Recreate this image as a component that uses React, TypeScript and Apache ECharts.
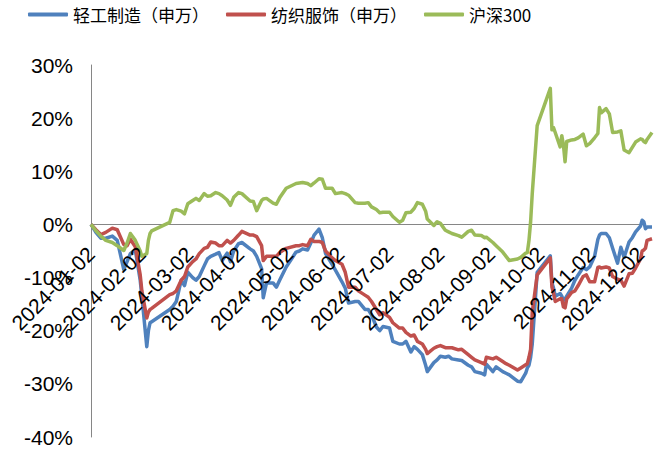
import React, { useEffect, useRef } from "react";
import * as echarts from "echarts";

// Trading dates sampled through 2024 (cumulative return since 2024-01-02, in %)
const DATES = [
  "2024-01-02", "2024-01-05", "2024-01-08", "2024-01-11", "2024-01-15", "2024-01-18", "2024-01-22", "2024-01-24",
  "2024-01-26", "2024-01-29", "2024-02-01", "2024-02-02", "2024-02-05", "2024-02-06", "2024-02-07", "2024-02-08",
  "2024-02-19", "2024-02-21", "2024-02-23", "2024-02-26", "2024-02-28", "2024-03-01", "2024-03-04", "2024-03-06",
  "2024-03-08", "2024-03-11", "2024-03-13", "2024-03-15", "2024-03-18", "2024-03-20", "2024-03-22", "2024-03-25",
  "2024-03-27", "2024-03-29", "2024-04-01", "2024-04-03", "2024-04-08", "2024-04-10", "2024-04-12", "2024-04-15",
  "2024-04-16", "2024-04-18", "2024-04-22", "2024-04-24", "2024-04-26", "2024-04-30", "2024-05-06", "2024-05-08",
  "2024-05-10", "2024-05-13", "2024-05-15", "2024-05-17", "2024-05-20", "2024-05-22", "2024-05-24", "2024-05-28",
  "2024-05-30", "2024-06-03", "2024-06-05", "2024-06-07", "2024-06-11", "2024-06-13", "2024-06-17", "2024-06-19",
  "2024-06-21", "2024-06-24", "2024-06-26", "2024-06-28", "2024-07-02", "2024-07-04", "2024-07-08", "2024-07-10",
  "2024-07-12", "2024-07-15", "2024-07-17", "2024-07-19", "2024-07-22", "2024-07-24", "2024-07-25", "2024-07-29",
  "2024-07-31", "2024-08-02", "2024-08-05", "2024-08-07", "2024-08-09", "2024-08-13", "2024-08-15", "2024-08-19",
  "2024-08-21", "2024-08-23", "2024-08-27", "2024-08-29", "2024-08-30", "2024-09-03", "2024-09-05", "2024-09-09",
  "2024-09-11", "2024-09-13", "2024-09-18", "2024-09-20", "2024-09-23", "2024-09-24", "2024-09-25", "2024-09-26",
  "2024-09-27", "2024-09-30", "2024-10-08", "2024-10-09", "2024-10-10", "2024-10-11", "2024-10-14", "2024-10-15",
  "2024-10-16", "2024-10-17", "2024-10-18", "2024-10-21", "2024-10-23", "2024-10-25", "2024-10-28", "2024-10-30",
  "2024-11-01", "2024-11-04", "2024-11-06", "2024-11-07", "2024-11-08", "2024-11-11", "2024-11-13", "2024-11-15",
  "2024-11-18", "2024-11-20", "2024-11-22", "2024-11-25", "2024-11-27", "2024-11-29", "2024-12-02", "2024-12-03",
  "2024-12-04", "2024-12-05", "2024-12-06", "2024-12-09",
];

// 轻工制造（申万）
const LIGHT_INDUSTRY = [
  0, -1.5, -2.6, -2.6, -2.2, -3.0, -8.5, -7.0,
  -5.5, -4.8, -10.5, -13.5, -23.0, -20.0, -18.5, -18.3,
  -16.0, -15.4, -14.5, -10.5, -11.5, -9.0, -10.0, -10.5,
  -9.8, -7.8, -6.5, -6.0, -5.6, -5.3, -6.8, -5.4,
  -7.0, -5.0, -3.6, -3.4, -4.6, -5.0, -6.0, -8.3,
  -13.8, -11.0, -11.0, -11.8, -10.5, -8.0, -5.2, -5.0,
  -4.6, -4.8, -3.5, -2.0, -0.9, -2.5, -5.5, -7.5,
  -8.6, -10.8, -12.0, -14.8, -14.5, -14.5, -16.0, -16.0,
  -17.0, -19.3, -20.0, -19.2, -19.5, -22.0, -22.5, -22.5,
  -22.0, -24.0, -23.0, -23.5, -24.5, -26.5, -27.7, -26.0,
  -25.5, -24.8, -25.0, -24.8, -25.3, -25.5, -25.6, -26.5,
  -26.8, -27.7, -28.0, -28.3, -26.3, -27.7, -26.8, -27.7,
  -28.0, -28.3, -29.5, -29.6, -28.0, -27.0, -26.5, -25.0,
  -22.5, -9.0, -5.9, -11.0, -12.0, -13.5, -13.0, -13.5,
  -14.3, -14.0, -13.5, -12.0, -10.5, -9.5, -8.1, -8.5,
  -8.0, -6.0, -2.8, -2.0, -1.7, -1.7, -2.5, -4.5,
  -7.3, -4.3, -6.2, -3.3, -2.5, -1.4, -0.3, 0.8,
  0.5, -0.8, -0.5, -0.5,
];

// 纺织服饰（申万）
const TEXTILE_APPAREL = [
  0, -1.0, -1.9, -1.5, -0.7, -1.0, -3.8, -4.0,
  -2.8, -4.2, -9.5, -12.5, -17.6, -16.5, -16.0, -15.8,
  -13.2, -13.0, -12.5, -10.5, -9.8, -8.0, -7.0, -6.5,
  -5.5, -4.5, -4.3, -3.3, -3.5, -4.0, -4.0, -3.0,
  -3.5, -3.0, -2.0, -1.3, -2.0, -2.0, -2.3, -4.0,
  -6.8, -6.0, -6.0, -6.0, -5.3, -4.5, -4.0, -4.0,
  -3.8, -4.0, -2.8, -3.2, -3.2, -3.4, -5.0, -6.3,
  -6.8, -7.5, -9.0, -11.8, -11.8, -12.5, -13.3, -13.7,
  -14.5, -16.0, -17.0, -16.6, -17.5, -18.5, -19.5, -19.5,
  -20.3, -21.0, -20.8, -22.0, -22.5, -23.5, -24.3, -23.3,
  -23.0, -22.8, -23.2, -23.2, -23.2, -23.6, -23.5, -24.5,
  -25.0, -25.5, -26.0, -26.3, -25.0, -25.3, -25.0, -25.8,
  -26.2, -26.5, -27.4, -27.0, -26.4, -26.2, -25.0, -23.5,
  -16.5, -9.5, -6.3, -11.8, -13.0, -14.5, -14.0, -14.0,
  -15.5, -15.7, -14.0, -12.8, -12.5, -11.5, -9.8, -9.5,
  -10.8, -10.8, -8.1, -8.0, -8.2, -8.0, -8.2, -9.8,
  -10.3, -10.5, -11.6, -9.3, -9.2, -8.2, -6.5, -5.0,
  -4.8, -4.5, -3.0, -2.7,
];

// 沪深300
const CSI300 = [
  0, -1.2, -2.2, -3.0, -3.4, -4.0, -4.9, -3.5,
  -1.7, -3.0, -5.0, -6.0, -5.5, -3.0, -1.7, -1.2,
  0.4, 2.6, 2.8, 2.5, 2.0, 3.9, 4.5, 4.9,
  4.5, 5.8, 5.3, 5.4, 6.0, 5.8, 5.4, 4.6,
  3.6, 5.1, 6.0, 5.8, 4.4, 4.3, 2.6, 4.5,
  4.8, 4.9, 4.0, 3.8, 5.0, 6.8, 7.7, 7.8,
  7.9, 7.7, 7.3, 7.8, 8.6, 8.5, 6.8, 6.8,
  5.8, 6.0, 5.8, 5.5, 4.1, 4.0, 4.0, 4.1,
  3.3, 2.8, 2.2, 2.3, 2.3, 1.5, 0.4, 0.8,
  2.2, 2.3, 3.0, 4.1, 3.8, 2.5, 1.0, -0.2,
  0.5, 0.2, -1.1, -1.4, -1.7, -2.1, -2.4, -1.3,
  -1.1, -2.0, -2.1, -2.5, -2.4, -3.4, -4.0, -5.2,
  -6.0, -6.8, -6.5, -6.2, -5.4, -5.3, -3.0, 0.5,
  5.8, 18.6, 25.6, 17.8, 18.2, 17.3, 14.6, 16.7,
  15.0, 11.8, 15.6, 15.9, 16.0, 16.3, 17.0, 14.8,
  15.2, 16.3, 17.1, 22.0, 21.0, 21.8, 20.8, 17.3,
  17.4, 17.6, 14.0, 13.5, 14.5, 15.5, 16.1, 16.0,
  15.6, 15.4, 16.0, 17.3,
];

const SERIES_NAMES = ["轻工制造（申万）", "纺织服饰（申万）", "沪深300"];
const SERIES_COLORS = ["#4F81BD", "#C0504D", "#9BBB59"];

const TICK_LABELS = [
  "2024-01-02", "2024-02-02", "2024-03-02", "2024-04-02", "2024-05-02", "2024-06-02",
  "2024-07-02", "2024-08-02", "2024-09-02", "2024-10-02", "2024-11-02", "2024-12-02",
];

const Y_MIN = -40;
const Y_MAX = 30;
const Y_STEP = 10;

const DAY_MS = 86400000;
const toUtc = (s: string) => {
  const [y, m, d] = s.split("-").map(Number);
  return Date.UTC(y, m - 1, d);
};
const ORIGIN = toUtc(TICK_LABELS[0]);
const dayOf = (s: string) => Math.round((toUtc(s) - ORIGIN) / DAY_MS);

const TICK_DAYS = TICK_LABELS.map(dayOf);
const LAST_TICK = TICK_DAYS[TICK_DAYS.length - 1];
const LAST_DAY = dayOf(DATES[DATES.length - 1]);

const W = 672;
const H = 450;
const GRID = { left: 91, right: 20, top: 65, bottom: 13 };
const AXIS_GREY = "#868686";

export default function App() {
  const ref = useRef<HTMLDivElement>(null);

  useEffect(() => {
    if (!ref.current) return;
    const chart = echarts.init(ref.current, undefined, { renderer: "svg" });
    const xs = DATES.map(dayOf);
    const valueSets = [LIGHT_INDUSTRY, TEXTILE_APPAREL, CSI300];
    const labelFont = "'Liberation Sans', Arial, sans-serif";

    // lift the date axis from the grid bottom up to the 0% level
    const plotH = H - GRID.top - GRID.bottom;
    const zeroLift = (plotH * (0 - Y_MIN)) / (Y_MAX - Y_MIN);

    chart.setOption({
      animation: false,
      backgroundColor: "#ffffff",
      grid: { ...GRID, containLabel: false, outerBoundsMode: "none" },
      legend: {
        data: SERIES_NAMES,
        left: 28,
        top: 6,
        padding: 0,
        itemWidth: 40,
        itemHeight: 4,
        itemGap: 17,
        icon: "roundRect",
        textStyle: {
          fontFamily: "'Noto Sans CJK SC', sans-serif",
          fontSize: 17,
          color: "#000",
          width: 127,
        },
      },
      xAxis: {
        type: "value",
        min: TICK_DAYS[0],
        max: LAST_DAY,
        offset: -zeroLift,
        z: 20,
        axisLine: { show: false, onZero: false },
        axisTick: { show: false },
        splitLine: { show: false },
        axisLabel: {
          customValues: TICK_DAYS,
          rotate: 45,
          margin: 26,
          fontSize: 21,
          fontFamily: labelFont,
          color: "#000",
          formatter: (v: number) => {
            const i = TICK_DAYS.indexOf(Math.round(v));
            return i >= 0 ? TICK_LABELS[i] : "";
          },
        },
      },
      yAxis: {
        type: "value",
        min: Y_MIN,
        max: Y_MAX,
        interval: Y_STEP,
        axisLine: { show: true, lineStyle: { color: AXIS_GREY, width: 1 } },
        axisTick: { show: false },
        splitLine: { show: false },
        axisLabel: {
          formatter: "{value}%",
          fontSize: 21,
          fontFamily: labelFont,
          color: "#000",
          margin: 18,
        },
      },
      series: SERIES_NAMES.map((name, k) => ({
        name,
        type: "line",
        data: xs.map((x, i) => [x, valueSets[k][i]]),
        showSymbol: false,
        symbol: "none",
        color: SERIES_COLORS[k],
        lineStyle: { width: 3.5, color: SERIES_COLORS[k], join: "round" },
        z: 3 + k,
        // the 0% base line runs from the first to the last month label
        markLine:
          k === 0
            ? {
                silent: true,
                symbol: "none",
                label: { show: false },
                lineStyle: { color: AXIS_GREY, width: 1, type: "solid" },
                z: 1,
                data: [[{ coord: [TICK_DAYS[0], 0] }, { coord: [LAST_TICK, 0] }]],
              }
            : undefined,
      })),
    });

    return () => chart.dispose();
  }, []);

  return (
    <div
      ref={ref}
      style={{ position: "absolute", left: 0, top: 0, width: W, height: H }}
    />
  );
}
